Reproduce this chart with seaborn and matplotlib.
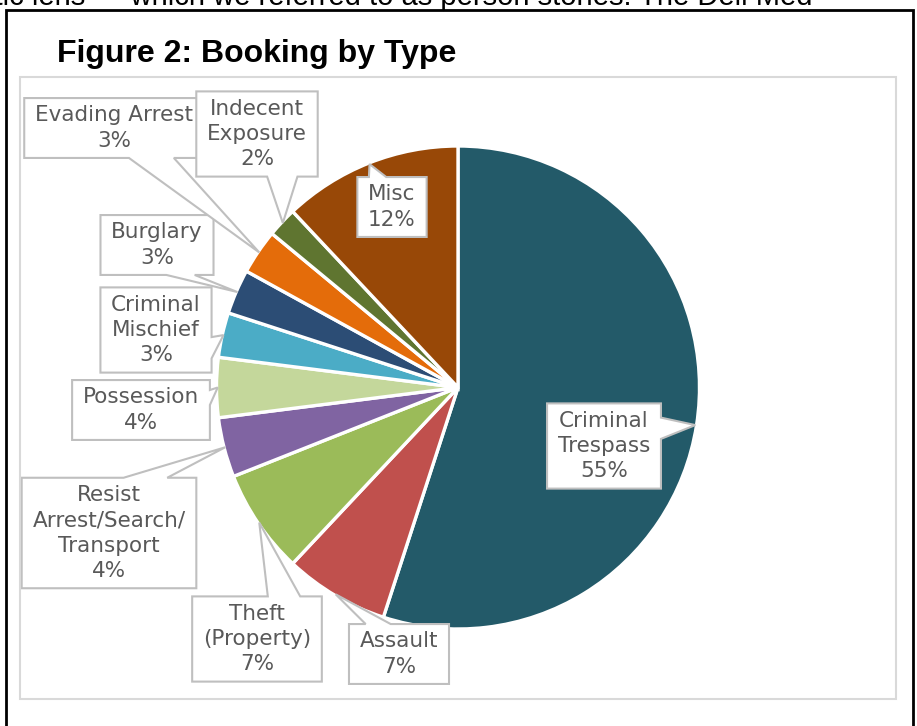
import numpy as np
import matplotlib
matplotlib.use("Agg")
import matplotlib.pyplot as plt
import seaborn as sns
from matplotlib.patches import Rectangle
from matplotlib.lines import Line2D
from matplotlib.path import Path

# booking types, clockwise from 12 o'clock
categories = ["Criminal\nTrespass", "Assault", "Theft\n(Property)",
              "Resist\nArrest/Search/\nTransport", "Possession",
              "Criminal\nMischief", "Burglary", "Evading Arrest",
              "Indecent\nExposure", "Misc"]
shares = [55, 7, 7, 4, 4, 3, 3, 3, 2, 12]
colors = ["#235A69", "#C0504D", "#9BBB59", "#8064A2", "#C4D79B",
          "#4BACC6", "#2C4D75", "#E46C0A", "#5F7530", "#984807"]

# callout box centres, in pixels of the 917x726 canvas (layout only)
label_pos = [(604, 446), (399, 654), (257, 639), (109, 533), (141, 410),
             (156, 330), (157, 245), (114, 128), (257, 134), (392, 207)]

W, H = 917, 726
CX, CY, R = 458, 387.5, 241.5


def to_data(x, y):
    return (x - CX) / R, (CY - y) / R


def make_callout(ax, anchor, tip):
    # rectangle callout with a triangular tail, like Excel's wedgeRectCallout
    def box(x0, y0, width, height, mutation_size):
        # the box is built in its own frame; the text anchor sits at its centre
        ax_, ay_ = ax.transData.transform(anchor)
        tx, ty = ax.transData.transform(tip)
        tx = tx - ax_ + x0 + width / 2
        ty = ty - ay_ + y0 + height / 2
        padx = 0.50 * mutation_size
        pady = 0.34 * mutation_size
        x0, y0 = x0 - padx, y0 - pady
        w, h = width + 2 * padx, height + 2 * pady
        x1, y1 = x0 + w, y0 + h
        dx, dy = tx - (x0 + w / 2), ty - (y0 + h / 2)
        if abs(dy) > abs(dx * h / w):
            if dx > 0:
                a, b = x0 + w * 7 / 12, x0 + w * 10 / 12
            else:
                a, b = x0 + w * 2 / 12, x0 + w * 5 / 12
            if dy < 0:
                verts = [(x0, y0), (a, y0), (tx, ty), (b, y0), (x1, y0),
                         (x1, y1), (x0, y1), (x0, y0)]
            else:
                verts = [(x0, y0), (x1, y0), (x1, y1), (b, y1), (tx, ty),
                         (a, y1), (x0, y1), (x0, y0)]
        else:
            if dy < 0:
                a, b = y1 - h * 10 / 12, y1 - h * 7 / 12
            else:
                a, b = y1 - h * 5 / 12, y1 - h * 2 / 12
            if dx > 0:
                verts = [(x0, y0), (x1, y0), (x1, a), (tx, ty), (x1, b),
                         (x1, y1), (x0, y1), (x0, y0)]
            else:
                verts = [(x0, y0), (x1, y0), (x1, y1), (x0, y1), (x0, b),
                         (tx, ty), (x0, a), (x0, y0)]
        return Path(verts, closed=True)
    return box


sns.set_theme(style="white")
plt.rcParams["font.family"] = ["DejaVu Sans"]

fig = plt.figure(figsize=(W / 100, H / 100), dpi=100)
fig.patch.set_facecolor("white")

ax = fig.add_axes([0, 0, 1, 1])
wedges, _ = ax.pie(shares, colors=colors, startangle=90, counterclock=False,
                   radius=1, wedgeprops=dict(edgecolor="white", linewidth=2.4))
ax.set_xlim(-CX / R, (W - CX) / R)
ax.set_ylim(-(H - CY) / R, CY / R)
ax.set_aspect("equal")
ax.axis("off")

# callout labels
for w, lab, val, pos in zip(wedges, categories, shares, label_pos):
    mid = np.deg2rad((w.theta1 + w.theta2) / 2)
    tip = (0.995 * np.cos(mid), 0.995 * np.sin(mid))
    anchor = to_data(*pos)
    ax.text(anchor[0], anchor[1], f"{lab}\n{val}%", ha="center", va="center",
            ma="center", fontsize=15.5, color="#595959", linespacing=1.33,
            zorder=5,
            bbox=dict(boxstyle=make_callout(ax, anchor, tip), fc="white",
                      ec="#BFBFBF", lw=1.5))

# chart area frame and the outer black frame of the page figure
fig.add_artist(Rectangle((20 / W, 1 - 699 / H), (896 - 20) / W, (699 - 77) / H,
                         transform=fig.transFigure, fill=False,
                         ec="#D9D9D9", lw=1.5))
fig.add_artist(Rectangle((6 / W, -0.05), (913 - 6) / W, 1.05 - 10 / H,
                         transform=fig.transFigure, fill=False,
                         ec="black", lw=2))
fig.add_artist(Line2D([443 / W, 443 / W], [1, 1 - 10 / H],
                      transform=fig.transFigure, color="black", lw=1))

fig.text(57 / W, 1 - 62 / H, "Figure 2: Booking by Type", ha="left",
         va="baseline", fontsize=23, fontweight="bold",
         family="Liberation Sans", color="black")

# body text of the page, cut off at the top edge
fig.text(813 / W, 1 - 5 / H,
         "stic lens \u2014 which we referred to as person stories. The Dell Med",
         ha="right", va="baseline", fontsize=21, family="Liberation Sans",
         color="black")

fig.savefig("out.png", dpi=100, facecolor="white")
